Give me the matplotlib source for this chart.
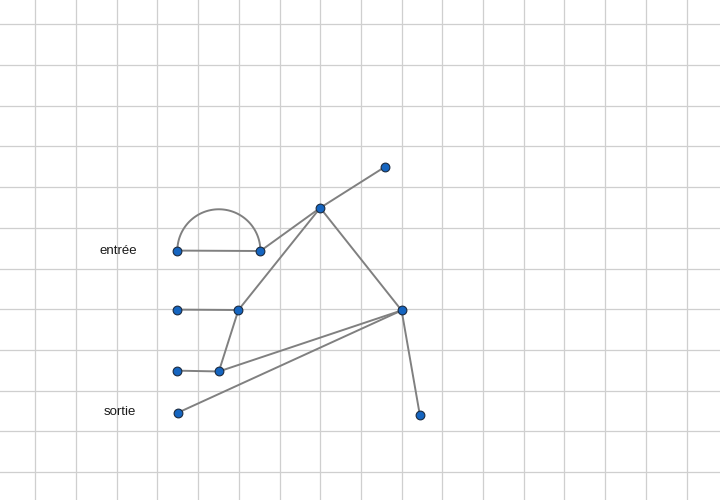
import numpy as np
import matplotlib
matplotlib.use("Agg")
import matplotlib.pyplot as plt

# node positions in grid units (x right, y down)
node_names = ["A", "B", "C", "D", "E", "F", "G", "H", "I", "J", "K"]
node_x = [3.49, 5.53, 3.49, 4.99, 7.00, 8.58, 9.00, 9.45, 3.49, 4.51, 3.51]
node_y = [5.56, 5.57, 7.01, 7.02, 4.51, 3.51, 7.03, 9.61, 8.51, 8.53, 9.54]

edges = [("A", "B"), ("B", "E"), ("E", "F"), ("E", "D"), ("E", "G"),
         ("C", "D"), ("D", "J"), ("I", "J"), ("J", "G"), ("K", "G"), ("G", "H")]
arc_edges = [("A", "B")]

labels = ["entrée", "sortie"]
label_x = [2.03, 2.08]
label_y = [5.56, 9.53]

pos = {n: (x, y) for n, x, y in zip(node_names, node_x, node_y)}

fig = plt.figure(figsize=(7.2, 5.0), dpi=100)
ax = fig.add_axes([0, 0, 1, 1])
px0, py0, cell = 35.3, 24.3, 40.7
ax.set_xlim(-px0 / cell, (720 - px0) / cell)
ax.set_ylim((500 - py0) / cell, -py0 / cell)

ax.set_xticks(range(0, 17))
ax.set_yticks(range(0, 12))
ax.grid(True, color="#cfcfcf", linewidth=0.9)
ax.tick_params(length=0, labelbottom=False, labelleft=False)
for s in ax.spines.values():
    s.set_visible(False)
ax.set_axisbelow(True)

line_kw = dict(color="#808080", linewidth=1.4, solid_capstyle="round", zorder=2)
for a, b in edges:
    (x1, y1), (x2, y2) = pos[a], pos[b]
    ax.plot([x1, x2], [y1, y2], **line_kw)

for a, b in arc_edges:
    (x1, y1), (x2, y2) = pos[a], pos[b]
    cx, cy = (x1 + x2) / 2, (y1 + y2) / 2
    r = np.hypot(x2 - x1, y2 - y1) / 2
    base = np.arctan2(y2 - y1, x2 - x1)
    t = np.linspace(np.pi, 2 * np.pi, 100)
    ax.plot(cx + r * np.cos(t + base - 0), cy + r * np.sin(t + base), **line_kw)

ax.plot(node_x, node_y, linestyle="none", marker="o", markersize=6.3,
        markerfacecolor="#1565c0", markeredgecolor="#1a2a40",
        markeredgewidth=0.8, zorder=3)

for t, x, y in zip(labels, label_x, label_y):
    ax.text(x, y, t, ha="center", va="center", fontsize=9.5,
            family=["Liberation Sans", "DejaVu Sans"], color="#1a1a1a")

fig.savefig("out.png", dpi=100)
